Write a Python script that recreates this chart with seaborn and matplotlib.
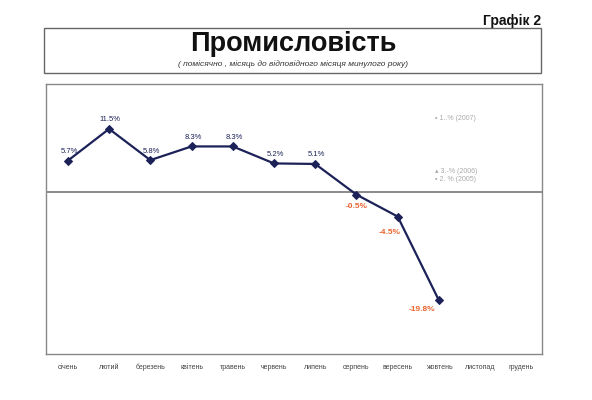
import matplotlib
matplotlib.use('Agg')
from matplotlib import pyplot as plt
from matplotlib.patches import Rectangle
import seaborn as sns
import numpy as np
import pandas as pd

months = ['січень', 'лютий', 'березень', 'квітень', 'травень', 'червень',
          'липень', 'серпень', 'вересень', 'жовтень', 'листопад', 'грудень']
values = [5.7, 11.5, 5.8, 8.3, 8.3, 5.2, 5.1, -0.5, -4.5, -19.8, np.nan, np.nan]
value_labels = ['5.7%', '11.5%', '5.8%', '8.3%', '8.3%', '5.2%', '5.1%',
                '-0.5%', '-4.5%', '-19.8%', '', '']
legend_notes = ['▪ 1..% (2007)', '▴ 3.-% (2006)', '▪ 2. % (2005)']

sns.set_style('white')
plt.rcParams['font.family'] = ['Liberation Sans', 'DejaVu Sans']

df = pd.DataFrame({'pos': np.arange(len(months)), 'value': values})

fig = plt.figure(figsize=(5.92, 4), dpi=100)
ax = fig.add_axes([0.0777, 0.115, 0.8378, 0.675])

navy = '#1c2258'
sns.lineplot(data=df.dropna(), x='pos', y='value', color=navy, linewidth=1.6,
             marker='D', markersize=4, markeredgecolor=navy, ax=ax)

ax.axhline(0, color='#777777', linewidth=1.2, zorder=0)

for i, (v, lab) in enumerate(zip(values, value_labels)):
    if np.isnan(v):
        continue
    if v >= 0:
        ax.annotate(lab, (i, v), xytext=(1, 4), textcoords='offset points',
                    ha='center', va='bottom', fontsize=5.5, color=navy)
    else:
        off = {7: (0, -6), 8: (-6, -9), 9: (-12, -4)}[i]
        ax.annotate(lab, (i, v), xytext=off, textcoords='offset points',
                    ha='center', va='top', fontsize=6, color='#e8632e',
                    fontweight='bold')

ax.set_xlim(-0.53, 11.5)
ax.set_ylim(-29.6, 19.7)
ax.set_xticks(np.arange(len(months)))
ax.set_xticklabels(months, fontsize=5, color='#444444', va='baseline')
ax.tick_params(axis='x', length=0, pad=10.5)
ax.set_yticks([])
ax.set_xlabel('')
ax.set_ylabel('')
for s in ax.spines.values():
    s.set_color('#888888')
    s.set_linewidth(1.0)

# faint notes at the upper right
ax.text(8.9, 13.1, legend_notes[0], fontsize=5, color='#aaaaaa')
ax.text(8.9, 3.5, legend_notes[1], fontsize=5, color='#aaaaaa')
ax.text(8.9, 1.9, legend_notes[2], fontsize=5, color='#aaaaaa')

# title box
fig.patches.append(Rectangle((0.0743, 0.8175), 0.8395, 0.1125,
                             transform=fig.transFigure, fill=False,
                             edgecolor='#666666', linewidth=1.0))
fig.text(0.495, 0.89, 'Промисловість', ha='center', va='center',
         fontsize=19.5, fontweight='bold', color='#111111')
fig.text(0.495, 0.84, '( помісячно , місяць до відповідного місяця минулого року)',
         ha='center', va='center', fontsize=6, style='italic', color='#333333')
fig.text(0.914, 0.948, 'Графік 2', ha='right', va='center',
         fontsize=10, fontweight='bold', color='#111111')

fig.savefig('out.png', dpi=100)
